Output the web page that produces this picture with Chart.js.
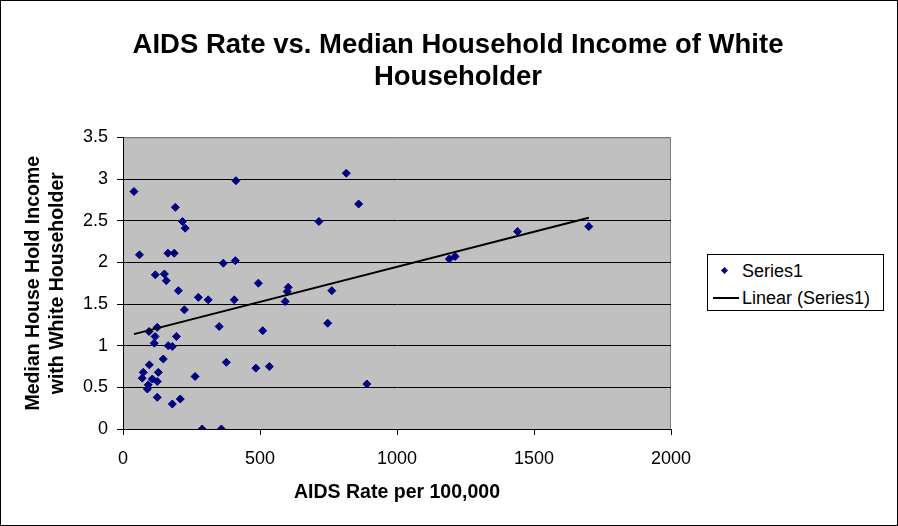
<!DOCTYPE html>
<html>
<head>
<meta charset="UTF-8">
<title>AIDS Rate vs. Median Household Income of White Householder</title>
<script src="https://cdn.jsdelivr.net/npm/chart.js@4.4.1/dist/chart.umd.min.js"></script>
<style>
    body, html {
        margin: 0;
        padding: 0;
        background: #fff;
        font-family: 'Liberation Sans', Arial, sans-serif;
    }
    .frame {
        position: relative;
        width: 898px;
        height: 526px;
        box-sizing: border-box;
        border: 1px solid #000;
        background: #fff;
    }
    .legend {
        position: absolute;
        left: 706px;
        top: 253px;
        width: 177px;
        height: 57px;
        box-sizing: border-box;
        border: 1px solid #000;
        background: #fff;
        font-size: 18px;
        color: #000;
    }
    .legend .row {
        position: absolute;
        left: 0;
        height: 24px;
        line-height: 24px;
        white-space: nowrap;
    }
    .legend .mark {
        display: inline-block;
        width: 26px;
        height: 24px;
        position: relative;
        vertical-align: top;
        margin-left: 5px;
        margin-right: 3px;
    }
    .diamond {
        position: absolute;
        left: 9px;
        top: 9px;
        width: 5px;
        height: 5px;
        background: #000080;
        transform: rotate(45deg);
    }
    .dash {
        position: absolute;
        left: 0;
        top: 11px;
        width: 26px;
        height: 2px;
        background: #000;
    }
</style>
</head>
<body>
<div class="frame">
    <canvas id="chart" width="896" height="524"></canvas>
    <div class="legend">
        <div class="row" style="top:4px"><span class="mark"><span class="diamond"></span></span>Series1</div>
        <div class="row" style="top:31px"><span class="mark"><span class="dash"></span></span>Linear (Series1)</div>
    </div>
</div>

<script>
    // AIDS rate per 100,000 (x) and median household income ratio (y)
    const aidsRate = [
        40, 412, 191, 217, 227, 60, 164, 187, 366, 410,
        118, 151, 158, 202, 494, 603, 599, 592, 275, 311,
        406, 224, 125, 95, 117, 195, 114, 165, 180, 351,
        510, 147, 96, 74, 70, 129, 107, 125, 92, 89,
        125, 180, 209, 263, 377, 485, 534, 289, 359, 715,
        815, 860, 762, 747, 890, 1191, 1212, 1440, 1700
    ];
    const income = [
        2.85, 2.98, 2.66, 2.49, 2.41, 2.09, 2.11, 2.11, 1.99, 2.02,
        1.85, 1.86, 1.78, 1.66, 1.75, 1.70, 1.65, 1.53, 1.58, 1.55,
        1.55, 1.43, 1.22, 1.17, 1.11, 1.11, 1.03, 1.00, 0.99, 1.23,
        1.18, 0.84, 0.77, 0.68, 0.61, 0.68, 0.60, 0.57, 0.53, 0.48,
        0.38, 0.30, 0.36, 0.63, 0.80, 0.73, 0.75, 0.00, 0.00, 2.49,
        3.07, 2.70, 1.66, 1.27, 0.54, 2.04, 2.07, 2.37, 2.43
    ];
    const xTicks = [0, 500, 1000, 1500, 2000];
    const yTicks = [0, 0.5, 1, 1.5, 2, 2.5, 3, 3.5];

    const points = aidsRate.map((x, i) => ({ x: x, y: income[i] }));

    // least squares fit for the "Linear (Series1)" trendline
    const n = aidsRate.length;
    const mx = aidsRate.reduce((a, b) => a + b, 0) / n;
    const my = income.reduce((a, b) => a + b, 0) / n;
    let sxy = 0, sxx = 0;
    for (let i = 0; i < n; i++) {
        sxy += (aidsRate[i] - mx) * (income[i] - my);
        sxx += (aidsRate[i] - mx) * (aidsRate[i] - mx);
    }
    const slope = sxy / sxx;
    const intercept = my - slope * mx;
    const xMin = Math.min(...aidsRate);
    const xMax = Math.max(...aidsRate);
    const trend = [
        { x: xMin, y: intercept + slope * xMin },
        { x: xMax, y: intercept + slope * xMax }
    ];

    const FONT = "'Liberation Sans', Arial, sans-serif";

    // gray plot area with a thin gray frame, like the old Excel charts
    const plotBackground = {
        id: 'plotBackground',
        beforeDraw(chart) {
            const { ctx, chartArea: a } = chart;
            ctx.save();
            ctx.fillStyle = '#C0C0C0';
            ctx.fillRect(a.left, a.top, a.right - a.left, a.bottom - a.top);
            ctx.strokeStyle = '#808080';
            ctx.lineWidth = 1;
            ctx.beginPath();
            ctx.moveTo(a.left, a.top + 0.5);
            ctx.lineTo(a.right - 0.5, a.top + 0.5);
            ctx.lineTo(a.right - 0.5, a.bottom);
            ctx.stroke();
            ctx.restore();
        }
    };

    new Chart(document.getElementById('chart'), {
        type: 'scatter',
        data: {
            datasets: [{
                label: 'Series1',
                data: points,
                pointStyle: 'rectRot',
                pointRadius: 4,
                pointHoverRadius: 4,
                backgroundColor: '#000080',
                borderColor: '#000080',
                borderWidth: 1,
                order: 2
            }, {
                label: 'Linear (Series1)',
                type: 'line',
                data: trend,
                showLine: true,
                borderColor: '#000',
                borderWidth: 2,
                pointRadius: 0,
                fill: false,
                order: 1
            }]
        },
        options: {
            responsive: false,
            animation: false,
            // left padding nudges the title a little right, as in the original
            layout: { padding: { left: 18, right: 0, top: 0, bottom: 0 } },
            plugins: {
                legend: { display: false },
                tooltip: { enabled: false },
                title: {
                    display: true,
                    text: ['AIDS Rate vs. Median Household Income of White', 'Householder'],
                    color: '#000',
                    font: { family: FONT, size: 27.5, weight: 'bold', lineHeight: 1.17 },
                    padding: { top: 28, bottom: 44 }
                }
            },
            scales: {
                x: {
                    type: 'linear',
                    min: 0,
                    max: 2000,
                    afterBuildTicks: s => { s.ticks = xTicks.map(v => ({ value: v })); },
                    afterFit: s => { s.height = 96; },
                    grid: {
                        drawOnChartArea: false,
                        drawTicks: true,
                        tickLength: 6,
                        tickColor: '#000'
                    },
                    border: { display: true, color: '#000', width: 1 },
                    ticks: {
                        color: '#000',
                        padding: 13,
                        maxRotation: 0,
                        callback: v => String(v),
                        font: { family: FONT, size: 18 }
                    },
                    title: {
                        display: true,
                        text: 'AIDS Rate per 100,000',
                        color: '#000',
                        font: { family: FONT, size: 19.5, weight: 'bold', lineHeight: 1.2 },
                        padding: { top: 0, bottom: 21 }
                    }
                },
                y: {
                    type: 'linear',
                    min: 0,
                    max: 3.5,
                    afterBuildTicks: s => { s.ticks = yTicks.map(v => ({ value: v })); },
                    afterFit: s => { s.width = 104; },
                    grid: {
                        color: c => (c.tick && c.tick.value === 3.5) ? '#808080' : '#000',
                        lineWidth: 1,
                        drawTicks: true,
                        tickLength: 6,
                        tickColor: '#000'
                    },
                    border: { display: true, color: '#000', width: 1 },
                    ticks: {
                        color: '#000',
                        padding: 9,
                        callback: v => String(v),
                        font: { family: FONT, size: 18 }
                    },
                    title: {
                        display: true,
                        text: ['Median House Hold Income', 'with White Householder'],
                        color: '#000',
                        font: { family: FONT, size: 19.5, weight: 'bold', lineHeight: 1.25 },
                        padding: { top: 2, bottom: 0 }
                    }
                },
                // empty axis that only reserves room for the legend on the right
                spacer: {
                    type: 'linear',
                    position: 'right',
                    display: true,
                    afterFit: s => { s.width = 226; },
                    grid: { display: false },
                    border: { display: false },
                    ticks: { display: false },
                    title: { display: false }
                }
            }
        },
        plugins: [plotBackground]
    });
</script>
</body>
</html>
